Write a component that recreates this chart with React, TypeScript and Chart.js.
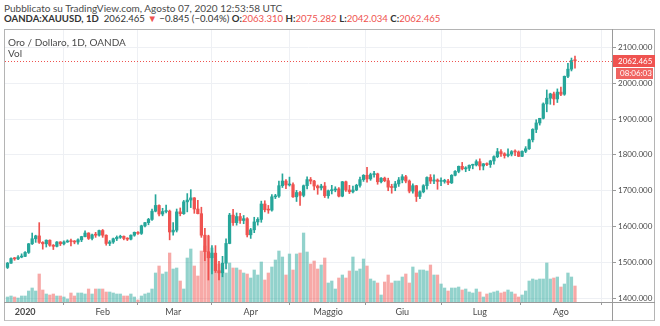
import React, { useEffect, useRef } from 'react';
import { Chart, registerables } from 'chart.js';

Chart.register(...registerables);

// ---- DATA ----
const opens = [
  1486, 1498, 1511, 1510, 1515,
  1517, 1528, 1552, 1566, 1574, 1556, 1552, 1562, 1548, 1545, 1557, 1552, 1557, 1560, 1558, 1557, 1563, 1572, 1582, 1567, 1577, 1576,
  1589, 1576, 1553, 1557, 1566, 1570, 1573, 1567, 1565, 1576, 1584, 1581, 1602, 1611, 1620, 1643, 1659, 1635, 1642, 1643,
  1585, 1590, 1641, 1636, 1669, 1674, 1680, 1649, 1636, 1576, 1530, 1513, 1526, 1477, 1471, 1498, 1553, 1632, 1611, 1628, 1617, 1622,
  1577, 1591, 1613, 1620, 1663, 1647, 1646, 1683, 1685, 1714, 1727, 1716, 1717, 1683, 1695, 1687, 1714, 1731, 1727, 1713, 1708, 1713,
  1686, 1700, 1702, 1705, 1685, 1725, 1702, 1697, 1702, 1715, 1731, 1743, 1733, 1745, 1747, 1725, 1735, 1728, 1710, 1709, 1719,
  1730, 1739, 1727, 1699, 1714, 1684, 1697, 1714, 1737, 1727, 1730, 1726, 1726, 1727, 1722, 1743, 1754, 1768, 1761, 1763, 1771, 1772,
  1781, 1769, 1775, 1773, 1783, 1795, 1809, 1803, 1798, 1802, 1809, 1808, 1796, 1810, 1817, 1842, 1871, 1889, 1902, 1942, 1958, 1970, 1956,
  1975, 1969, 2019, 2039, 2063.31,
];
const highs = [
  1500, 1513, 1514, 1519, 1524,
  1530, 1553, 1582, 1576, 1611, 1558, 1563, 1563, 1550, 1558, 1558, 1560, 1563, 1565, 1561, 1566, 1573, 1588, 1583, 1579, 1584, 1590,
  1592, 1577, 1561, 1568, 1574, 1576, 1574, 1569, 1577, 1585, 1586, 1604, 1612, 1623, 1649, 1689, 1661, 1651, 1660, 1646,
  1611, 1649, 1652, 1673, 1692, 1703, 1681, 1673, 1654, 1595, 1576, 1547, 1547, 1503, 1517, 1566, 1637, 1648, 1638, 1637, 1631, 1625,
  1595, 1626, 1625, 1671, 1672, 1659, 1689, 1690, 1727, 1747, 1731, 1738, 1722, 1701, 1698, 1716, 1739, 1737, 1729, 1716, 1718, 1723,
  1702, 1715, 1711, 1709, 1726, 1727, 1715, 1713, 1718, 1738, 1745, 1765, 1749, 1754, 1749, 1737, 1738, 1735, 1718, 1726, 1737,
  1745, 1743, 1730, 1719, 1715, 1700, 1717, 1739, 1745, 1744, 1733, 1736, 1732, 1732, 1745, 1756, 1769, 1779, 1767, 1772, 1774, 1786,
  1789, 1776, 1778, 1785, 1797, 1818, 1815, 1806, 1817, 1812, 1814, 1811, 1811, 1823, 1844, 1873, 1898, 1902, 1945, 1981, 1972, 1975, 1984,
  1989, 2020, 2055, 2070, 2075.282,
];
const lows = [
  1483, 1497, 1506, 1508, 1513,
  1516, 1525, 1550, 1556, 1553, 1537, 1543, 1545, 1536, 1543, 1547, 1549, 1556, 1546, 1552, 1551, 1558, 1571, 1564, 1563, 1570, 1573,
  1570, 1548, 1547, 1553, 1561, 1567, 1563, 1561, 1563, 1573, 1578, 1578, 1599, 1605, 1617, 1641, 1630, 1630, 1638, 1563,
  1576, 1585, 1630, 1634, 1641, 1653, 1637, 1635, 1570, 1505, 1451, 1468, 1472, 1451, 1460, 1482, 1552, 1603, 1604, 1609, 1608, 1571,
  1567, 1583, 1604, 1612, 1641, 1637, 1643, 1678, 1681, 1709, 1706, 1713, 1681, 1670, 1659, 1683, 1705, 1719, 1702, 1690, 1702, 1681,
  1679, 1691, 1697, 1683, 1683, 1698, 1692, 1694, 1700, 1710, 1726, 1724, 1729, 1738, 1718, 1722, 1725, 1700, 1693, 1700, 1712,
  1722, 1722, 1694, 1693, 1670, 1678, 1694, 1704, 1720, 1720, 1704, 1714, 1721, 1717, 1720, 1741, 1750, 1758, 1753, 1756, 1761, 1769,
  1758, 1758, 1770, 1765, 1774, 1792, 1796, 1791, 1794, 1797, 1798, 1795, 1795, 1806, 1815, 1836, 1862, 1883, 1900, 1920, 1941, 1939, 1946,
  1965, 1966, 2015, 2034, 2042.034,
];
const closes = [
  1498, 1511, 1510, 1515, 1517,
  1528, 1552, 1566, 1574, 1556, 1552, 1562, 1548, 1545, 1557, 1552, 1557, 1560, 1558, 1557, 1563, 1572, 1582, 1567, 1577, 1576, 1589,
  1576, 1553, 1557, 1566, 1570, 1573, 1567, 1565, 1576, 1584, 1581, 1602, 1611, 1620, 1643, 1659, 1635, 1642, 1643, 1585,
  1590, 1641, 1636, 1669, 1674, 1680, 1649, 1636, 1576, 1530, 1513, 1526, 1477, 1471, 1498, 1553, 1632, 1611, 1628, 1617, 1622, 1577,
  1591, 1613, 1620, 1663, 1647, 1646, 1683, 1685, 1714, 1727, 1716, 1717, 1683, 1695, 1687, 1714, 1731, 1727, 1713, 1708, 1713, 1686,
  1700, 1702, 1705, 1685, 1725, 1702, 1697, 1702, 1715, 1731, 1743, 1733, 1745, 1747, 1725, 1735, 1728, 1710, 1709, 1719, 1730,
  1739, 1727, 1699, 1714, 1684, 1697, 1714, 1737, 1727, 1730, 1726, 1726, 1727, 1722, 1743, 1754, 1768, 1761, 1763, 1771, 1772, 1781,
  1769, 1775, 1773, 1783, 1795, 1809, 1803, 1798, 1802, 1809, 1808, 1796, 1810, 1817, 1842, 1871, 1889, 1902, 1942, 1958, 1970, 1956, 1975,
  1969, 2019, 2039, 2063, 2062.465,
];
const volumes = [
  5, 6, 5, 4, 6, 6, 11, 14, 11, 28, 12, 8, 7, 8, 6, 6, 5, 3, 9, 6, 9, 9, 8, 13, 8, 13, 13, 13, 10, 10, 9, 8, 8, 6, 6, 8, 5, 2, 6, 8, 9, 13,
  29, 36, 28, 30, 49, 33, 34, 21, 13, 44, 53, 36, 26, 51, 56, 66, 54, 43, 38, 34, 29, 39, 34, 34, 32, 29, 28, 24, 32, 27, 40, 22, 29, 35, 42, 51, 45, 27, 48, 32, 48,
  49, 69, 50, 38, 41, 33, 37, 44, 19, 21, 13, 24, 27, 24, 31, 45, 31, 33, 43, 36, 23, 21, 19, 7, 20, 27, 19, 21, 21, 25, 28, 19, 35, 29, 32, 32, 31, 37, 27, 27,
  18, 14, 11, 14, 14, 15, 12, 13, 10, 9, 13, 10, 5, 8, 9, 10, 11, 9, 10, 12, 10, 8, 5, 7, 11, 21, 23, 22, 23, 23, 39, 23, 24, 25, 15, 18, 29, 25, 16,
];
const monthTickIndex = [5, 27, 47, 69, 91, 112, 134, 157];
const monthTickLabels = ['2020', 'Feb', 'Mar', 'Apr', 'Maggio', 'Giu', 'Lug', 'Ago'];
const priceTicks = [1400, 1500, 1600, 1700, 1800, 1900, 2000, 2100];
const lastPrice = 2062.465;
const countdown = '08:06:03';

const UP = '#26a69a';
const DOWN = '#ef5350';
const UP_VOL = 'rgba(38,166,154,0.5)';
const DOWN_VOL = 'rgba(239,83,80,0.5)';
const FONT = 'Lato, "Open Sans", sans-serif';

export default function App() {
  const ref = useRef<HTMLCanvasElement>(null);

  useEffect(() => {
    const canvas = ref.current!;
    const isUp = closes.map((c, i) => c >= opens[i]);
    const bodyData = closes.map((c, i) => ({ x: i, y: [opens[i], c] }));
    const wickData = closes.map((_, i) => ({ x: i, y: [lows[i], highs[i]] }));
    const volData = volumes.map((v, i) => ({ x: i, y: v }));

    const framePlugin = {
      id: 'frame',
      afterDatasetsDraw(chart: any) {
        const { ctx, chartArea } = chart;
        const y = chart.scales.y.getPixelForValue(lastPrice);
        ctx.save();
        ctx.strokeStyle = DOWN;
        ctx.lineWidth = 1;
        ctx.setLineDash([1, 2]);
        ctx.beginPath();
        ctx.moveTo(chartArea.left, Math.round(y) + 0.5);
        ctx.lineTo(chartArea.right, Math.round(y) + 0.5);
        ctx.stroke();
        ctx.restore();
      },
      afterDraw(chart: any) {
        const { ctx, chartArea } = chart;
        ctx.save();
        ctx.strokeStyle = '#9a9a9a';
        ctx.lineWidth = 1;
        ctx.beginPath();
        ctx.moveTo(chartArea.right + 0.5, 29);
        ctx.lineTo(chartArea.right + 0.5, 321);
        ctx.moveTo(4, chartArea.bottom + 0.5);
        ctx.lineTo(655, chartArea.bottom + 0.5);
        ctx.stroke();
        const y = Math.round(chart.scales.y.getPixelForValue(lastPrice));
        ctx.fillStyle = DOWN;
        ctx.fillRect(chartArea.right + 1, y - 6, 42, 12);
        ctx.fillStyle = '#f06461';
        ctx.fillRect(chartArea.right + 4, y + 7, 37, 11);
        ctx.fillStyle = '#ffffff';
        ctx.font = `8px ${FONT}`;
        ctx.textBaseline = 'middle';
        ctx.textAlign = 'left';
        ctx.fillText(lastPrice.toFixed(3), chartArea.right + 6, y + 0.5);
        ctx.fillText(countdown, chartArea.right + 8, y + 12.5);
        ctx.restore();
      },
    };

    const chart = new Chart(canvas, {
      type: 'bar',
      data: {
        datasets: [
          {
            data: bodyData as any,
            backgroundColor: isUp.map((u) => (u ? UP : DOWN)),
            barThickness: 2.6,
            minBarLength: 1,
            grouped: false,
            yAxisID: 'y',
          } as any,
          {
            data: wickData as any,
            backgroundColor: isUp.map((u) => (u ? UP : DOWN)),
            barThickness: 1,
            grouped: false,
            yAxisID: 'y',
          } as any,
          {
            data: volData as any,
            backgroundColor: isUp.map((u) => (u ? UP_VOL : DOWN_VOL)),
            barThickness: 2.6,
            grouped: false,
            yAxisID: 'yVol',
          } as any,
        ],
      },
      options: {
        responsive: false,
        animation: false,
        devicePixelRatio: 1,
        layout: { padding: { left: 5, top: 30, right: 5, bottom: 5 } },
        plugins: { legend: { display: false }, tooltip: { enabled: false } },
        scales: {
          x: {
            type: 'linear',
            min: -0.71,
            max: 171.5,
            offset: false,
            afterBuildTicks: (scale: any) => {
              scale.ticks = monthTickIndex.map((v) => ({ value: v }));
            },
            afterFit: (scale: any) => {
              scale.height = 19;
            },
            grid: { color: '#eef0f4', tickColor: '#9a9a9a', tickLength: 3, drawOnChartArea: true },
            border: { display: false },
            ticks: {
              autoSkip: false,
              maxRotation: 0,
              padding: 2,
              color: '#4a4a4a',
              font: (ctx: any) => ({ family: FONT, size: 9, weight: ctx.tick && ctx.tick.value === 5 ? 'bold' : 'normal' }),
              callback: (v: any) => {
                const k = monthTickIndex.indexOf(Number(v));
                return k >= 0 ? monthTickLabels[k] : '';
              },
            },
          },
          y: {
            type: 'linear',
            position: 'right',
            min: 1389.7,
            max: 2148.2,
            afterBuildTicks: (scale: any) => {
              scale.ticks = priceTicks.map((v) => ({ value: v }));
            },
            afterFit: (scale: any) => {
              scale.width = 43;
            },
            grid: { color: '#eef0f4', tickColor: '#9a9a9a', tickLength: 4 },
            border: { display: false },
            ticks: {
              padding: 2,
              color: '#4a4a4a',
              font: { family: FONT, size: 8 },
              callback: (v: any) => Number(v).toFixed(3),
            },
          },
          yVol: {
            type: 'linear',
            display: false,
            min: 0,
            max: 272,
          },
        },
      },
      plugins: [framePlugin],
    } as any);
    return () => chart.destroy();
  }, []);

  const redTxt = { color: DOWN };
  return (
    <div style={{ position: 'fixed', left: 0, top: 0, width: 660, height: 326, background: '#fff', fontFamily: FONT, overflow: 'hidden' }}>
      <div style={{ position: 'absolute', left: 4, top: 2, fontSize: 10, lineHeight: '12px', color: '#4a4a4a', whiteSpace: 'nowrap' }}>
        Pubblicato su TradingView.com, Agosto 07, 2020 12:53:58 UTC
      </div>
      <div style={{ position: 'absolute', left: 4, top: 13, fontSize: 9.6, lineHeight: '12px', color: '#333', whiteSpace: 'nowrap' }}>
        <b>OANDA:XAUUSD, 1D</b>&nbsp; 2062.465 <span style={redTxt}>▼</span> −0.845 (−0.04%) <b>O:</b><span style={redTxt}>2063.310</span> <b>H:</b><span style={redTxt}>2075.282</span> <b>L:</b><span style={redTxt}>2042.034</span> <b>C:</b><span style={redTxt}>2062.465</span>
      </div>
      <div style={{ position: 'absolute', left: 4, top: 29, width: 651, height: 292, border: '1px solid #b4b4b4', borderBottomColor: '#c4c4c4', boxSizing: 'border-box' }} />
      <canvas ref={ref} width={660} height={326} style={{ position: 'absolute', left: 0, top: 0, width: 660, height: 326 }} />
      <div style={{ position: 'absolute', left: 8, top: 36, fontSize: 10, lineHeight: '12px', color: '#4a4a4a', whiteSpace: 'nowrap' }}>
        Oro / Dollaro, 1D, OANDA
      </div>
      <div style={{ position: 'absolute', left: 8, top: 47, fontSize: 10, lineHeight: '12px', color: '#4a4a4a', whiteSpace: 'nowrap' }}>
        Vol
      </div>
    </div>
  );
}
